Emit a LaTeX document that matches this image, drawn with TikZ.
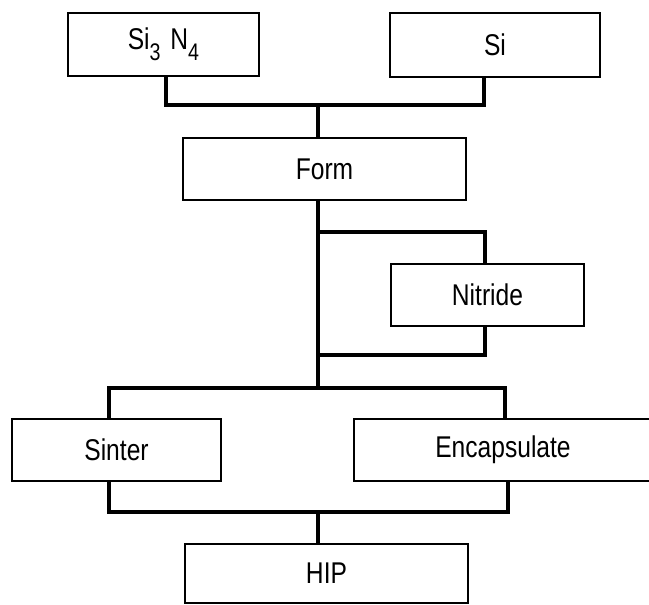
\documentclass[tikz,border=0pt]{standalone}
\usepackage{graphicx}
\usepackage{fontspec}
\setmainfont{Liberation Sans}
\newcommand{\lbl}[1]{\scalebox{0.82}[1]{\fontsize{30}{34}\selectfont #1}}
\newcommand{\subnum}[1]{\raisebox{-11pt}{\fontsize{24}{26}\selectfont #1}}
\begin{document}
\begin{tikzpicture}[x=1pt,y=-1pt,
  box/.style={draw, line width=1.6pt, inner sep=0pt},
  conn/.style={draw, line width=3.5pt}]
\useasboundingbox (0,0) rectangle (649,605);
\clip (0,0) rectangle (649,605);
\node[box, minimum width=191pt, minimum height=63pt] (si3n4) at (163.5,44.5)
  {\lbl{Si\subnum{3}\hspace{0.4em}N\subnum{4}}};
\node[box, minimum width=210pt, minimum height=64pt] (si) at (495,45) {\lbl{Si}\hspace{5pt}};
\node[box, minimum width=283pt, minimum height=62pt] (form) at (324.5,169) {\lbl{Form}\hspace{19pt}};
\node[box, minimum width=193pt, minimum height=62pt] (nitride) at (487.5,295) {\lbl{Nitride}};
\node[box, minimum width=209pt, minimum height=62pt] (sinter) at (116.5,450) {\lbl{Sinter}};
\node[box, minimum width=298pt, minimum height=62pt] (encap) at (503,450) {\lbl{Encapsulate}\hspace{7pt}};
\node[box, minimum width=283pt, minimum height=59pt] (hip) at (326.5,573.5) {\lbl{HIP}\hspace{17pt}};
\coordinate (j1) at (318,105);
\coordinate (n1) at (318,232);
\coordinate (n2) at (318,355);
\coordinate (j2) at (318,388);
\coordinate (j3) at (318,512);
\draw[conn] ([xshift=2.5pt]si3n4.south) |- (j1) -| ([xshift=-11pt]si.south);
\draw[conn] (j1) -- (j1 |- form.north);
\draw[conn] (j1 |- form.south) -- (j2);
\draw[conn] (n1) -| ([xshift=-2.5pt]nitride.north);
\draw[conn] ([xshift=-2.5pt]nitride.south) |- (n2);
\draw[conn] ([xshift=-7.5pt]sinter.north) |- (j2) -| ([xshift=2pt]encap.north);
\draw[conn] ([xshift=-7.5pt]sinter.south) |- (j3) -| ([xshift=5pt]encap.south);
\draw[conn] (j3) -- (j3 |- hip.north);
\end{tikzpicture}
\end{document}
